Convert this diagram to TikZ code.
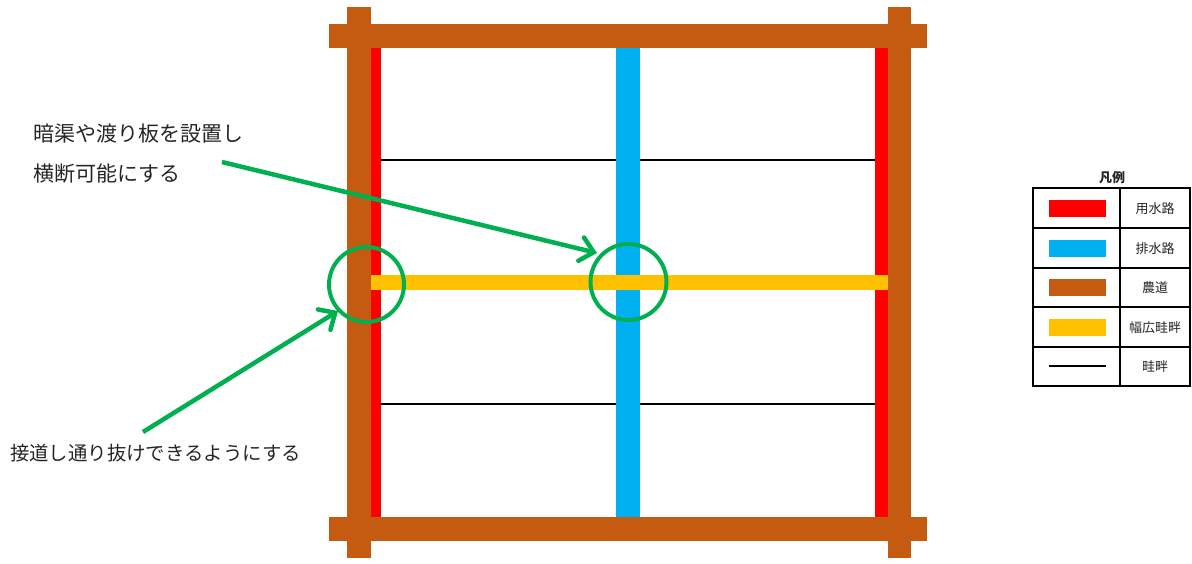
\documentclass[tikz,border=0pt]{standalone}
\usepackage{fontspec}
\newfontfamily\jp{Noto Sans CJK JP}
\usetikzlibrary{arrows.meta}
\definecolor{road}{HTML}{C55A11}
\definecolor{feed}{HTML}{FF0000}
\definecolor{drain}{HTML}{00B0F0}
\definecolor{wide}{HTML}{FFC000}
\definecolor{mark}{HTML}{00B050}
\tikzset{
  callout/.style={anchor=west,inner sep=0pt,font=\jp\fontsize{20}{24}\selectfont,text=black!85},
  ring/.style={draw=mark,line width=4pt},
  pointer/.style={draw=mark,line width=4.5pt,-{Straight Barb[length=13pt,width=24pt,line cap=round]}},
  legtext/.style={inner sep=0pt,font=\jp\fontsize{13}{15}\selectfont,text=black!85},
  legline/.style={draw=black,line width=2pt}
}
\begin{document}
\begin{tikzpicture}[x=1pt,y=-1pt]
\useasboundingbox[fill=white] (0,0) rectangle (1192,563);
% thin levees
\draw[line width=1.5pt] (381,160) -- (875,160);
\draw[line width=1.5pt] (381,404) -- (875,404);
% drainage
\fill[drain] (616,46) rectangle (640,517);
% irrigation
\fill[feed] (371,46) rectangle (381,517);
\fill[feed] (875,46) rectangle (888,517);
% wide levee
\fill[wide] (371,275) rectangle (888,290);
% roads
\fill[road] (347,7) rectangle (371,558);
\fill[road] (888,7) rectangle (911,558);
\fill[road] (329,24) rectangle (927,48);
\fill[road] (329,517) rectangle (927,541);
% circles
\draw[ring] (366.5,284.5) circle (37.5);
\draw[ring] (628.5,282) circle (38);
\coordinate (c1tip) at (338,311);
\coordinate (c2tip) at (597,253);
% texts
\node[callout,font=\jp\fontsize{21}{24}\selectfont] (t1) at (33,134) {暗渠や渡り板を設置し};
\node[callout,font=\jp\fontsize{21}{24}\selectfont] (t2) at (33,174) {横断可能にする};
\node[callout,font=\jp\fontsize{19.4}{24}\selectfont] (t3) at (10,453) {接道し通り抜けできるようにする};
\coordinate (s1) at (222,162);
\coordinate (s2) at (143,432);
\draw[pointer] (s1) -- (c2tip);
\draw[pointer] (s2) -- (c1tip);
% legend
\node[legtext,font=\jp\bfseries\fontsize{13}{15}\selectfont] (lt) at (1112,178) {凡例};
\draw[legline] (1033,188) rectangle (1190,386);
\draw[legline] (1120,188) -- (1120,386);
\foreach \yy in {228,268,307,347} \draw[legline] (1033,\yy) -- (1190,\yy);
\fill[feed] (1049,200) rectangle (1106,217);
\fill[drain] (1049,240) rectangle (1106,257);
\fill[road] (1049,279) rectangle (1106,296);
\fill[wide] (1049,319) rectangle (1106,336);
\draw[line width=2pt] (1049,366) -- (1106,366);
\node[legtext] (l1) at (1155,209) {用水路};
\node[legtext] (l2) at (1155,249) {排水路};
\node[legtext] (l3) at (1155,288) {農道};
\node[legtext] (l4) at (1155,328) {幅広畦畔};
\node[legtext] (l5) at (1155,367) {畦畔};
\end{tikzpicture}
\end{document}
